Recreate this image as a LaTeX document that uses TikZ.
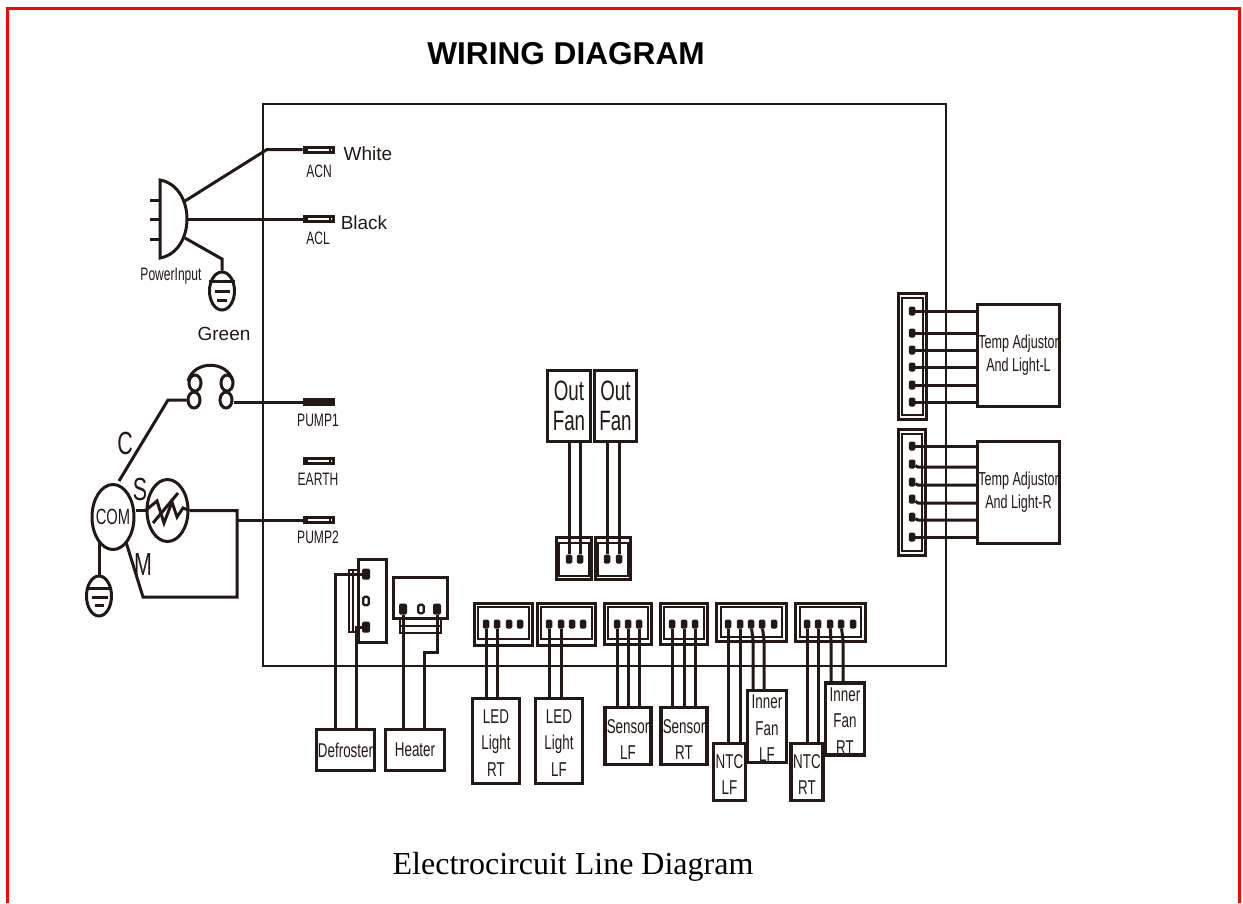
\documentclass[tikz,border=0pt]{standalone}
\usepackage{fontspec}
\usetikzlibrary{shapes.geometric}
\setmainfont{Liberation Sans}
\newfontfamily\narrowfont[FakeStretch=0.67]{Liberation Sans}
\newfontfamily\timesfont{Liberation Serif}
\definecolor{inkblack}{HTML}{231815}
\tikzset{
  wire/.style={inkblack,line width=3,line join=miter},
  thinwire/.style={inkblack,line width=1.9},
  part/.style={draw=inkblack,line width=3.2,rectangle,inner sep=0,align=center,text=inkblack},
  boxlabel/.style={part,font=\narrowfont\fontsize{20}{26.5}\selectfont},
  smalllabel/.style={inner sep=0,text=inkblack,font=\narrowfont\fontsize{18}{20}\selectfont},
  biglabel/.style={inner sep=0,text=inkblack,font=\narrowfont\fontsize{32}{34}\selectfont},
  colorlabel/.style={inner sep=0,text=inkblack,font=\fontsize{19}{21}\selectfont},
  templabel/.style={part,font=\narrowfont\fontsize{18.8}{23}\selectfont},
  terminal/.style={draw=inkblack,line width=3,rectangle,inner sep=0,minimum width=29,minimum height=5,
    path picture={\draw[inkblack,line width=1.2] ([xshift=3]path picture bounding box.south west) -- ([xshift=3]path picture bounding box.north west);
      \draw[inkblack,line width=1.2] ([xshift=-3]path picture bounding box.south east) -- ([xshift=-3]path picture bounding box.north east);}},
  shell/.style={draw=inkblack,line width=2.8,rectangle,inner sep=0},
  pin/.style={fill=inkblack,rectangle,rounded corners=1.5,inner sep=0,minimum width=6.5,minimum height=9},
  bigpin/.style={pin,minimum width=8,minimum height=11},
  openpin/.style={pin,fill=white,draw=inkblack,line width=2.4,minimum width=5.5,minimum height=8.5},
  earthcase/.style={draw=inkblack,line width=3,ellipse,inner sep=0,minimum width=25,minimum height=38},
  winding/.style={earthcase,minimum width=12,minimum height=16},
  compressor/.style={draw=inkblack,line width=3,ellipse,inner sep=0},
}
\begin{document}
\begin{tikzpicture}[x=1pt,y=-1pt]
        \useasboundingbox (0,0) rectangle (1243,903);
        %\draw[step=100,gray,very thin] (0,0) grid (1243,903);
        \draw[red,line width=3] (7.5,903) -- (7.5,8.5) -- (1239.5,8.5) -- (1239.5,903);
        \node[inner sep=0,text=black,font=\bfseries\fontsize{31.6}{33}\selectfont] (title) at (566,54) {WIRING DIAGRAM};
        \node[inner sep=0,text=black,font=\timesfont\fontsize{32}{34}\selectfont] (caption) at (573,867) {Electrocircuit Line Diagram};

        % Control board
        \node[part,line width=2.7,minimum width=683,minimum height=562] (board) at (604.5,385) {};

        % Terminals on the board
        \node[terminal] (acn) at (318.5,149.5) {};
        \node[terminal] (acl) at (318.5,219) {};
        \node[terminal,fill=inkblack] (pumpa) at (318.5,402) {};
        \node[terminal] (earth) at (318.5,460.5) {};
        \node[terminal] (pumpb) at (318.5,520) {};
        \node[smalllabel] (acntext) at (319,171) {ACN};
        \node[smalllabel] (acltext) at (318,238) {ACL};
        \node[smalllabel] (pumpatext) at (318,420) {PUMP1};
        \node[smalllabel] (earthtext) at (318,479) {EARTH};
        \node[smalllabel] (pumpbtext) at (318,537) {PUMP2};
        \node[colorlabel] (whitetext) at (368,154) {White};
        \node[colorlabel] (blacktext) at (364,223) {Black};
        \node[colorlabel] (greentext) at (224,334) {Green};

        % Power input plug
        \coordinate (plugtop) at (185,201);
        \coordinate (plugmid) at (187,219);
        \coordinate (plugbot) at (185,238);
        \draw[wire] (160,180) .. controls (177,183) and (187,200) .. (187,219) .. controls (187,238) and (177,255) .. (160,258) -- cycle;
        \draw[wire] (150,200) -- (160,200);
        \draw[wire] (150,219) -- (160,219);
        \draw[wire] (150,239) -- (160,239);
        \node[smalllabel] (plugtext) at (171,276) {PowerInput};
        \node[earthcase] (plugearth) at (222,291) {};
        \draw[wire] (209,281) -- (235,281);
        \draw[wire] (215,291) -- (230,291);
        \draw[wire] (217,300) -- (227,300);
        \draw[wire] (plugtop) -- (267,149.5) -- (acn);
        \draw[wire] (plugmid) -- (acl);
        \draw[wire] (plugbot) -- (222,259) -- (plugearth);

        % Compressor
        \node[compressor,minimum width=42,minimum height=65] (com) at (113,517) {};
        \node[inner sep=0,text=inkblack,font=\narrowfont\fontsize{22}{24}\selectfont] (comtext) at (113,517) {COM};
        \node[compressor,minimum width=41,minimum height=62] (heat) at (167.5,510.5) {};
        \draw[wire] (heat.west) -- (157,501) -- (164,523) -- (172,502) -- (177,517) -- (183,508) -- (heat.east);
        \draw[wire] (153,523) -- (178,493);
        \node[biglabel] (ctext) at (125,443) {C};
        \node[biglabel] (stext) at (140,489) {S};
        \node[biglabel] (mtext) at (143,564) {M};
        \coordinate (comfoot) at (99,542);
        \node[earthcase,minimum height=40] (comearth) at (99,596) {};
        \draw[wire] (86,588) -- (112,588);
        \draw[wire] (92,597) -- (108,597);
        \draw[wire] (95,605) -- (104,605);
        \draw[wire] (comfoot) -- (comearth);

        % Overload loop
        \node[winding] (looplu) at (195,383) {};
        \node[winding] (loopld) at (194,400) {};
        \node[winding] (loopru) at (227,383) {};
        \node[winding] (looprd) at (226,400) {};
        \draw[wire] (188,381) .. controls (194,360) and (227,360) .. (233,381);
        \draw[wire] (119,481) -- (168,400) -- (loopld);
        \draw[wire] (looprd.east |- pumpa) -- (pumpa);
        \draw[wire] (com.east |- heat) -- (heat.west);
        \draw[wire] (heat.east) -- (237,510.5) -- (237,597) -- (143,597) -- (126,542);
        \coordinate (pumpjoint) at (237,520);
        \draw[wire] (pumpjoint) -- (pumpb);

        % Defroster
        \node[shell,minimum width=28,minimum height=83] (defconn) at (372.5,601) {};
        \draw[thinwire] (349,570) rectangle (358,632);
        \draw[thinwire] (353,570) -- (353,632);
        \node[bigpin] (defpa) at (366,574) {};
        \node[openpin] (defpb) at (366,601) {};
        \node[bigpin] (defpc) at (366,627) {};
        \node[boxlabel,minimum width=58,minimum height=41] (defroster) at (345.5,750) {Defroster};
        \draw[wire] (defpa) -- (335,574) -- (335,728);
        \draw[wire] (defpc) -- (356,627) -- (356,728);

        % Heater
        \node[shell,minimum width=54,minimum height=41] (heatconn) at (420.5,598) {};
        \draw[thinwire] (400,619) rectangle (441,633);
        \draw[thinwire] (400,626) -- (441,626);
        \node[bigpin] (heatpa) at (403,609) {};
        \node[openpin] (heatpb) at (421,609) {};
        \node[bigpin] (heatpc) at (437,609) {};
        \node[boxlabel,minimum width=59,minimum height=41] (heater) at (415,750) {Heater};
        \draw[wire] (heatpa) -- (heatpa |- heater.north);
        \draw[wire] (heatpc) -- (437,652) -- (424,652) -- (424,729);

        % LED connectors
        \node[shell,minimum width=58,minimum height=42] (ledrtconn) at (503.5,624.5) {};
        \draw[thinwire] (478,607) rectangle (529,639);
        \node[pin] (ledrtpa) at (486,624) {};
        \node[pin] (ledrtpb) at (497,624) {};
        \node[pin] (ledrtpc) at (509,624) {};
        \node[pin] (ledrtpd) at (520,624) {};
        \node[shell,minimum width=58,minimum height=42] (ledlfconn) at (566.5,624.5) {};
        \draw[thinwire] (541,607) rectangle (592,639);
        \node[pin] (ledlfpa) at (549,624) {};
        \node[pin] (ledlfpb) at (561,624) {};
        \node[pin] (ledlfpc) at (572,624) {};
        \node[pin] (ledlfpd) at (583,624) {};
        \node[boxlabel,minimum width=47,minimum height=85] (ledrt) at (496,741) {\rule{0pt}{17pt}LED\\Light\\RT};
        \node[boxlabel,minimum width=47,minimum height=85] (ledlf) at (559,741) {\rule{0pt}{17pt}LED\\Light\\LF};
        \draw[wire] (ledrtpa) -- (ledrtpa |- ledrt.north);
        \draw[wire] (ledrtpb) -- (ledrtpb |- ledrt.north);
        \draw[wire] (ledlfpa) -- (ledlfpa |- ledlf.north);
        \draw[wire] (ledlfpb) -- (ledlfpb |- ledlf.north);

        % Sensor connectors
        \node[shell,minimum width=47,minimum height=41] (senlfconn) at (628,624) {};
        \draw[thinwire] (608,607) rectangle (648,639);
        \node[pin] (senlfpa) at (617,624) {};
        \node[pin] (senlfpb) at (628,624) {};
        \node[pin] (senlfpc) at (639,624) {};
        \node[shell,minimum width=47,minimum height=41] (senrtconn) at (684,624) {};
        \draw[thinwire] (664,607) rectangle (704,639);
        \node[pin] (senrtpa) at (672,624) {};
        \node[pin] (senrtpb) at (684,624) {};
        \node[pin] (senrtpc) at (695,624) {};
        \node[boxlabel,minimum width=46,minimum height=57] (senlf) at (628,736) {\rule{0pt}{21pt}Sensor\\LF};
        \node[boxlabel,minimum width=46,minimum height=57] (senrt) at (684,736) {\rule{0pt}{21pt}Sensor\\RT};
        \draw[wire] (senlfpa) -- (senlfpa |- senlf.north);
        \draw[wire] (senlfpb) -- (senlfpb |- senlf.north);
        \draw[wire] (senlfpc) -- (senlfpc |- senlf.north);
        \draw[wire] (senrtpa) -- (senrtpa |- senrt.north);
        \draw[wire] (senrtpb) -- (senrtpb |- senrt.north);
        \draw[wire] (senrtpc) -- (senrtpc |- senrt.north);

        % NTC and inner fan connectors
        \node[shell,minimum width=70,minimum height=38] (fanlfconn) at (751.5,622.5) {};
        \draw[thinwire] (721,607) rectangle (782,637);
        \node[pin] (fanlfpa) at (728,624) {};
        \node[pin] (fanlfpb) at (740,624) {};
        \node[pin] (fanlfpc) at (751,624) {};
        \node[pin] (fanlfpd) at (762,624) {};
        \node[pin] (fanlfpe) at (774,624) {};
        \node[shell,minimum width=70,minimum height=38] (fanrtconn) at (830.5,622.5) {};
        \draw[thinwire] (800,607) rectangle (861,637);
        \node[pin] (fanrtpa) at (807,624) {};
        \node[pin] (fanrtpb) at (818,624) {};
        \node[pin] (fanrtpc) at (830,624) {};
        \node[pin] (fanrtpd) at (841,624) {};
        \node[pin] (fanrtpe) at (853,624) {};
        \node[boxlabel,minimum width=32,minimum height=57] (ntclf) at (729.5,772) {\rule{0pt}{19pt}NTC\\LF};
        \node[boxlabel,minimum width=32,minimum height=57] (ntcrt) at (807,772) {\rule{0pt}{19pt}NTC\\RT};
        \node[boxlabel,minimum width=39,minimum height=72] (innerlf) at (767,726.5) {\rule{0pt}{17pt}Inner\\Fan\\LF};
        \node[boxlabel,minimum width=39,minimum height=72] (innerrt) at (845,719) {\rule{0pt}{17pt}Inner\\Fan\\RT};
        \draw[wire] (fanlfpa) -- (fanlfpa |- ntclf.north);
        \draw[wire] (fanlfpb) -- (fanlfpb |- ntclf.north);
        \draw[wire] (fanlfpc) -- (753,640) -- (753,689);
        \draw[wire] (fanlfpd) -- (764,640) -- (764,689);
        \draw[wire] (fanrtpa) -- (fanrtpa |- ntcrt.north);
        \draw[wire] (fanrtpb) -- (fanrtpb |- ntcrt.north);
        \draw[wire] (fanrtpc) -- (831,640) -- (831,681);
        \draw[wire] (fanrtpd) -- (843,640) -- (843,681);

        % Out fans
        \node[part,minimum width=43,minimum height=71,font=\narrowfont\fontsize{28}{30}\selectfont] (outa) at (569,406) {Out\\Fan};
        \node[part,minimum width=42,minimum height=71,font=\narrowfont\fontsize{28}{30}\selectfont] (outb) at (615.5,406) {Out\\Fan};
        \node[shell,minimum width=35,minimum height=42] (outaconn) at (574,558.5) {};
        \draw[thinwire] (559,543) rectangle (589,576);
        \node[shell,minimum width=35,minimum height=42] (outbconn) at (613,558.5) {};
        \draw[thinwire] (598,543) rectangle (628,576);
        \node[pin] (outapa) at (569,559) {};
        \node[pin] (outapb) at (580,559) {};
        \node[pin] (outbpa) at (607,559) {};
        \node[pin] (outbpb) at (619,559) {};
        \draw[wire] (outapa) -- (outapa |- outa.south);
        \draw[wire] (outapb) -- (outapb |- outa.south);
        \draw[wire] (outbpa) -- (outbpa |- outb.south);
        \draw[wire] (outbpb) -- (outbpb |- outb.south);

        % Temp adjustor L
        \node[shell,minimum width=28,minimum height=126] (tlconn) at (912.5,356.5) {};
        \draw[thinwire] (902,298) rectangle (923,415);
        \node[pin] (tlpa) at (912,311) {};
        \node[pin] (tlpb) at (912,333) {};
        \node[pin] (tlpc) at (912,350) {};
        \node[pin] (tlpd) at (912,367) {};
        \node[pin] (tlpe) at (912,385) {};
        \node[pin] (tlpf) at (912,402) {};
        \node[templabel,minimum width=82,minimum height=102] (tladj) at (1018.5,355.5) {Temp Adjustor\\And Light-L};
        \draw[wire] (tlpa) -- (tlpa -| tladj.west);
        \draw[wire] (tlpb) -- (tlpb -| tladj.west);
        \draw[wire] (tlpc) -- (tlpc -| tladj.west);
        \draw[wire] (tlpd) -- (tlpd -| tladj.west);
        \draw[wire] (tlpe) -- (tlpe -| tladj.west);
        \draw[wire] (tlpf) -- (tlpf -| tladj.west);

        % Temp adjustor R
        \node[shell,minimum width=27,minimum height=126] (trconn) at (912,492.5) {};
        \draw[thinwire] (902,434) rectangle (922,551);
        \node[pin] (trpa) at (912,446) {};
        \node[pin] (trpb) at (912,464) {};
        \node[pin] (trpc) at (912,482) {};
        \node[pin] (trpd) at (912,499) {};
        \node[pin] (trpe) at (912,517) {};
        \node[pin] (trpf) at (912,537) {};
        \node[templabel,minimum width=82,minimum height=102] (tradj) at (1018.5,492.5) {Temp Adjustor\\And Light-R};
        \draw[wire] (trpa) -- (trpa -| tradj.west);
        \draw[wire] (trpb) -- (918,467) -- (tradj.west |- 918,467);
        \draw[wire] (trpc) -- (918,485) -- (tradj.west |- 918,485);
        \draw[wire] (trpd) -- (918,503) -- (tradj.west |- 918,503);
        \draw[wire] (trpe) -- (918,520) -- (tradj.west |- 918,520);
        \draw[wire] (trpf) -- (trpf -| tradj.west);
\end{tikzpicture}
\end{document}
